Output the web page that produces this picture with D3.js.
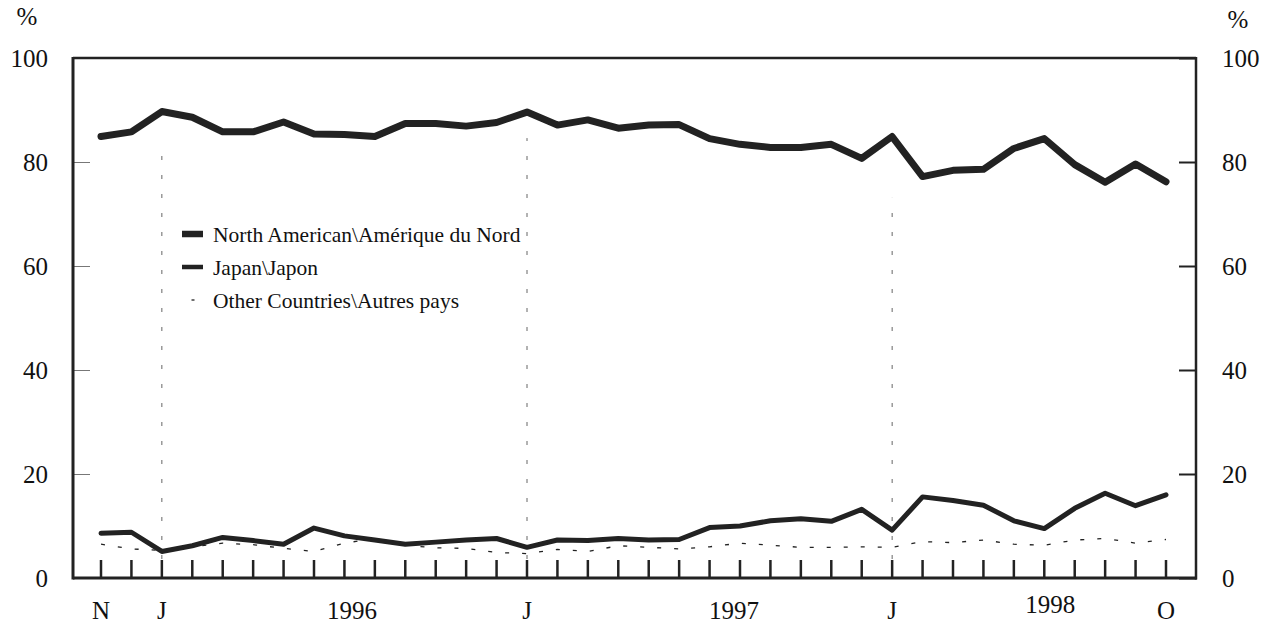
<!DOCTYPE html>
<html>
<head>
<meta charset="utf-8">
<script src="https://cdn.jsdelivr.net/npm/d3@7"></script>
<style>
  html, body { margin: 0; padding: 0; background: #fff; }
  svg { display: block; }
  svg text { font-family: "Liberation Serif", "Times New Roman", serif; }
</style>
</head>
<body>
<svg id="chart" width="1271" height="626"></svg>
<script>
// ---- data (monthly, Nov 1995 .. Oct 1998) ----
const monthIndex = d3.range(36);
const northAmerica = [84.9, 85.8, 89.7, 88.6, 85.8, 85.8, 87.7, 85.4, 85.3, 84.9, 87.4, 87.4,
                      86.9, 87.6, 89.6, 87.1, 88.1, 86.5, 87.1, 87.2, 84.5, 83.4, 82.8, 82.8,
                      83.4, 80.7, 84.9, 77.2, 78.4, 78.6, 82.6, 84.5, 79.5, 76.1, 79.6, 76.2];
const japan = [8.6, 8.8, 5.1, 6.2, 7.8, 7.2, 6.5, 9.6, 8.1, 7.3, 6.5, 6.9,
               7.3, 7.6, 5.9, 7.3, 7.2, 7.6, 7.3, 7.4, 9.7, 10.0, 11.0, 11.4,
               10.9, 13.2, 9.2, 15.6, 14.9, 14.0, 11.0, 9.5, 13.4, 16.3, 13.9, 16.0];
const otherCountries = [6.5, 5.6, 5.3, 6.0, 6.7, 6.4, 5.7, 5.1, 6.7, 7.6, 6.3, 5.8,
                        5.7, 4.9, 4.7, 5.5, 5.1, 6.2, 5.9, 5.6, 6.0, 6.7, 6.3, 5.9,
                        5.9, 6.0, 5.9, 7.0, 6.8, 7.3, 6.5, 6.3, 7.3, 7.6, 6.7, 7.4];
const yTicks = [0, 20, 40, 60, 80, 100];
const xLabels = ["N", "J", "1996", "J", "1997", "J", "1998", "O"];
const xLabelAt = [0, 2, 8.25, 14, 20.8, 26, 31.2, 35];
const januaryIndex = [2, 14, 26];
const januaryGridTop = [81.3, 84.6, 73.1];
const legendLabels = ["North American\\Amérique du Nord", "Japan\\Japon", "Other Countries\\Autres pays"];

// ---- layout ----
const svg = d3.select("#chart");
const L = 73, R = 1196, T = 58, B = 578;
const x = d3.scaleLinear().domain([0, 35]).range([101, 1166]);
const y = d3.scaleLinear().domain([0, 100]).range([B, T]);
const ink = "#222";
const serif = "'Liberation Serif', 'Times New Roman', serif";

// vertical January guide lines
svg.append("g").selectAll("line").data(januaryIndex).join("line")
  .attr("x1", d => x(d)).attr("x2", d => x(d))
  .attr("y1", B).attr("y2", (d, i) => y(januaryGridTop[i]))
  .attr("stroke", "#666").attr("stroke-width", 1).attr("stroke-dasharray", "4,15");

// month ticks along the bottom
svg.append("g").selectAll("line").data(monthIndex).join("line")
  .attr("x1", d => x(d)).attr("x2", d => x(d))
  .attr("y1", B).attr("y2", B - 18)
  .attr("stroke", ink).attr("stroke-width", 2.5);

// y axes
const axL = svg.append("g").attr("transform", `translate(${L},0)`)
  .call(d3.axisLeft(y).tickValues(yTicks).tickSize(-17).tickPadding(25));
axL.attr("font-family", null);
axL.select(".domain").remove();
axL.selectAll(".tick line").attr("stroke", "#777").attr("stroke-width", 1);
axL.selectAll(".tick text").attr("font-size", 25).style("font-family", serif).attr("fill", "#111");

const axR = svg.append("g").attr("transform", `translate(${R},0)`)
  .call(d3.axisRight(y).tickValues(yTicks).tickSize(-17).tickPadding(26));
axR.attr("font-family", null);
axR.select(".domain").remove();
axR.selectAll(".tick line").attr("stroke", ink).attr("stroke-width", 2);
axR.selectAll(".tick text").attr("font-size", 25).style("font-family", serif).attr("fill", "#111");

// % units
svg.append("text").attr("x", 27).attr("y", 25).attr("text-anchor", "middle")
  .attr("font-size", 25).attr("fill", "#111").text("%");
svg.append("text").attr("x", 1238).attr("y", 28).attr("text-anchor", "middle")
  .attr("font-size", 25).attr("fill", "#111").text("%");

// frame
svg.append("line").attr("x1", L).attr("x2", L).attr("y1", T - 1).attr("y2", B + 1.5).attr("stroke", ink).attr("stroke-width", 3);
svg.append("line").attr("x1", L).attr("x2", R).attr("y1", T).attr("y2", T).attr("stroke", ink).attr("stroke-width", 2.5);
svg.append("line").attr("x1", R).attr("x2", R).attr("y1", T - 1).attr("y2", B + 1.5).attr("stroke", ink).attr("stroke-width", 2.5);
svg.append("line").attr("x1", L).attr("x2", R + 1).attr("y1", B).attr("y2", B).attr("stroke", ink).attr("stroke-width", 3);

// x labels
svg.append("g").selectAll("text").data(xLabels).join("text")
  .attr("x", (d, i) => x(xLabelAt[i]))
  .attr("y", d => d === "1998" ? 613 : 619)
  .attr("text-anchor", "middle").attr("font-size", 25).attr("fill", "#111")
  .text(d => d);

// series lines
const line = d3.line().x((d, i) => x(monthIndex[i])).y(d => y(d));
svg.append("path").datum(otherCountries).attr("d", line)
  .attr("fill", "none").attr("stroke", "#222").attr("stroke-width", 1.3).attr("stroke-dasharray", "4,13");
svg.append("path").datum(japan).attr("d", line)
  .attr("fill", "none").attr("stroke", ink).attr("stroke-width", 5)
  .attr("stroke-linejoin", "round").attr("stroke-linecap", "round");
svg.append("path").datum(northAmerica).attr("d", line)
  .attr("fill", "none").attr("stroke", ink).attr("stroke-width", 7)
  .attr("stroke-linejoin", "round").attr("stroke-linecap", "round");

// legend
const legendStyles = [{h: 6.5, w: 21, x: 182}, {h: 4.5, w: 21, x: 182}, {h: 1.3, w: 3, x: 191.5}];
const lg = svg.append("g");
legendLabels.forEach((lab, i) => {
  const cy = 234 + i * 33;
  const s = legendStyles[i];
  lg.append("rect").attr("x", s.x).attr("y", cy - s.h / 2).attr("width", s.w).attr("height", s.h).attr("fill", ink);
  lg.append("text").attr("x", 213).attr("y", cy + 7.5).attr("font-size", 21.5).attr("fill", "#111").text(lab);
});
</script>
</body>
</html>
